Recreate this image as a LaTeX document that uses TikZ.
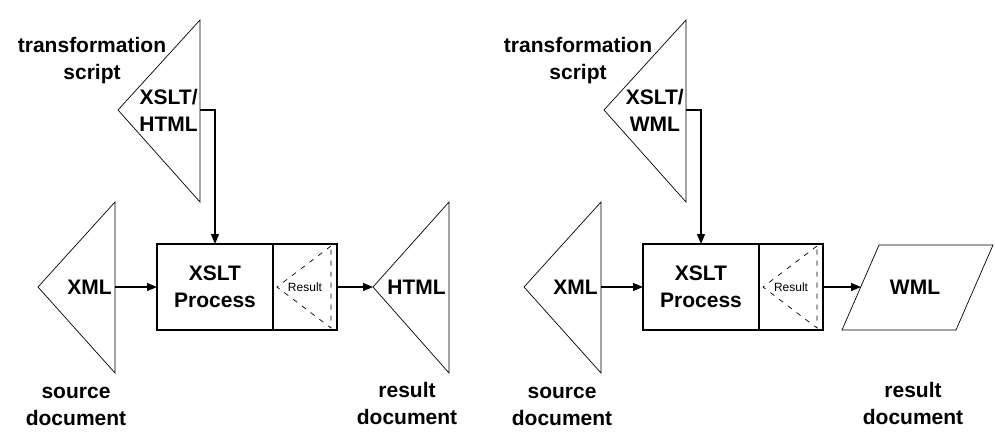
\documentclass[tikz,border=0pt]{standalone}
\usepackage{fontspec}
\setmainfont{Liberation Sans}
\usetikzlibrary{arrows.meta}
\tikzset{
  outline/.style={draw, line width=.7pt},
  flow/.style={line width=1.2pt, -{Triangle[length=10pt,width=8pt]}},
  bigtext/.style={font=\fontsize{21}{27}\selectfont\bfseries, align=center, inner sep=0pt},
  smalltext/.style={font=\fontsize{12}{13}\selectfont, inner sep=0pt},
  box/.style={draw, line width=1.2pt, minimum height=86pt, inner sep=0pt, outer sep=0pt},
}
\begin{document}
\begin{tikzpicture}[x=1pt,y=-1pt]
  \useasboundingbox[fill=white] (0,0) rectangle (995,434);
  \foreach \p/\dx/\lang in {L/0/HTML, R/486/WML} {
    \begin{scope}[shift={(\dx,0)}]
      \coordinate (script\p) at (200,110);
      \coordinate (src\p) at (115,287);
      \draw[outline] (118,110) -- (200,20) -- (200,202) -- cycle;
      \draw[outline] (38,287) -- (115,202) -- (115,373) -- cycle;
      \node[bigtext] at (92,61) {transformation\\script};
      \node[bigtext, anchor=east] at (198,110) {XSLT/\\\lang};
      \node[bigtext, anchor=east] at (112,287) {XML};
      \node[bigtext] at (76,406) {source\\document};
      \node[box, bigtext, minimum width=116pt] (proc\p) at (215,287) {XSLT\\Process};
      \node[box, minimum width=64pt, anchor=west] (res\p) at (proc\p.east) {};
      \draw[line width=.7pt, dash pattern=on 5pt off 6pt] (331,246) -- (277,287) -- (331,328) -- cycle;
      \node[smalltext] at (305,287) {Result};
      \draw[flow] (script\p) -| (proc\p.north);
      \draw[flow] (src\p) -- (proc\p.west);
    \end{scope}
  }
  \coordinate (htmlTip) at (373,287);
  \draw[outline] (htmlTip) -- (449,202) -- (449,373) -- cycle;
  \node[bigtext, anchor=east] at (446,287) {HTML};
  \draw[flow] (resL.east) -- (htmlTip);
  \node[bigtext] at (407,403) {result\\document};
  \coordinate (wmlIn) at (861,287);
  \draw[outline] (842,330) -- (879,245) -- (993,245) -- (956,330) -- cycle;
  \node[bigtext] at (915,287) {WML};
  \draw[flow] (resR.east) -- (wmlIn);
  \node[bigtext] at (913,403) {result\\document};
\end{tikzpicture}
\end{document}
